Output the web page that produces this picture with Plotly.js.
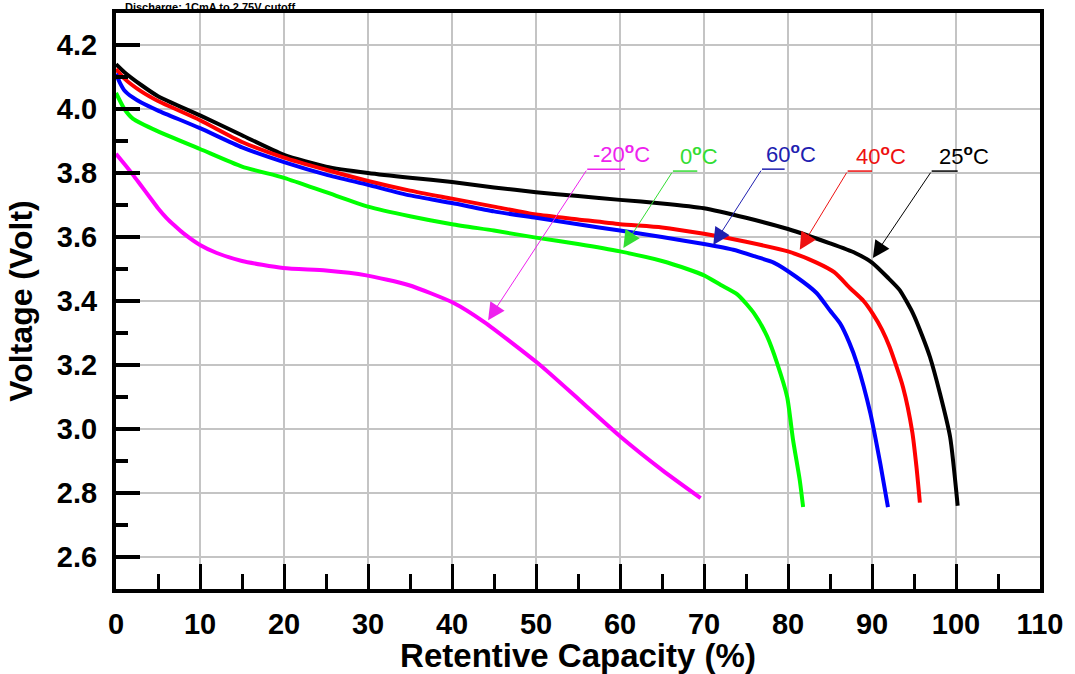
<!DOCTYPE html>
<html>
<head>
<meta charset="utf-8">
<script src="https://cdn.plot.ly/plotly-3.0.1.min.js"></script>
<style>html,body{margin:0;padding:0;background:#fff;}#chart{width:1075px;height:674px;}</style>
</head>
<body>
<div id="chart"></div>
<script>
// ---- data (Retentive Capacity %, Voltage V) ----
const seriesNames = ['25\u00b0C', '40\u00b0C', '60\u00b0C', '0\u00b0C', '-20\u00b0C'];
const seriesColors = ['#000000', '#ff0000', '#0000ff', '#00ff00', '#ff00ff'];

const x25 = [0, 1, 3, 5, 10, 15, 20, 25, 30, 35, 40, 45, 50, 55, 60, 65, 70, 75, 80, 85, 88, 90, 92, 93.3, 94.9, 96, 96.9, 98.1, 99.3, 100.2];
const v25 = [4.14, 4.115, 4.075, 4.04, 3.98, 3.918, 3.857, 3.82, 3.80, 3.785, 3.772, 3.755, 3.74, 3.728, 3.716, 3.705, 3.69, 3.66, 3.625, 3.58, 3.55, 3.52, 3.47, 3.434, 3.36, 3.29, 3.225, 3.11, 2.975, 2.76];

const x40 = [0, 1, 3, 5, 10, 15, 20, 25, 30, 35, 40, 45, 50, 55, 60, 65, 70, 75, 80, 83.4, 85.5, 87.4, 89, 90.1, 91.2, 92.1, 93.7, 94.8, 95.3, 95.7];
const v40 = [4.125, 4.095, 4.055, 4.025, 3.965, 3.897, 3.848, 3.81, 3.775, 3.745, 3.72, 3.695, 3.67, 3.655, 3.64, 3.63, 3.61, 3.585, 3.555, 3.52, 3.49, 3.44, 3.40, 3.36, 3.31, 3.256, 3.13, 2.99, 2.88, 2.77];

const x60 = [0, 0.5, 1, 2, 3, 5, 10, 15, 20, 25, 30, 35, 40, 45, 50, 55, 60, 65, 70, 73.5, 76, 78.3, 81, 83.4, 85, 86.2, 87.3, 88.2, 89.8, 91, 91.9];
const v60 = [4.11, 4.08, 4.058, 4.036, 4.02, 3.995, 3.94, 3.88, 3.834, 3.795, 3.763, 3.73, 3.706, 3.68, 3.66, 3.64, 3.62, 3.60, 3.578, 3.56, 3.54, 3.52, 3.475, 3.425, 3.37, 3.33, 3.27, 3.206, 3.05, 2.89, 2.756];

const x0 = [0, 1, 2, 5, 10, 15, 20, 25, 30, 35, 40, 45, 50, 55, 60, 65, 68, 70, 72, 74, 76, 77.5, 78.7, 79.9, 80.6, 81.4, 81.8];
const v0 = [4.05, 4.0, 3.97, 3.93, 3.875, 3.82, 3.785, 3.74, 3.695, 3.665, 3.64, 3.62, 3.598, 3.578, 3.555, 3.525, 3.50, 3.48, 3.45, 3.42, 3.36, 3.29, 3.206, 3.10, 2.966, 2.84, 2.756];

const xm20 = [0, 1, 2, 3, 4, 5, 6, 7, 8, 10, 12, 15, 19.9, 25, 29.8, 34.8, 40.2, 43.8, 50.2, 55.2, 60.1, 65.1, 69.6];
const vm20 = [3.86, 3.828, 3.795, 3.76, 3.725, 3.69, 3.66, 3.635, 3.612, 3.575, 3.55, 3.525, 3.503, 3.495, 3.48, 3.45, 3.394, 3.335, 3.206, 3.09, 2.975, 2.87, 2.784];

// ---- label annotations (order: -20, 0, 60, 40, 25) ----
const labelText = ['-20<sup><b>o</b></sup>C', '0<sup><b>o</b></sup>C', '60<sup><b>o</b></sup>C', '40<sup><b>o</b></sup>C', '25<sup><b>o</b></sup>C'];
const labelColors = ['#ee22ee', '#33dd33', '#2020b0', '#ee1111', '#000000'];
const labelX = [56.5, 66.9, 77.1, 87.8, 97.7];
const labelY = [3.812, 3.806, 3.812, 3.806, 3.806];
const lineX0 = [56.1, 66.3, 76.9, 87.1, 97.1];
const lineX1 = [60.6, 69.2, 79.6, 90.0, 100.2];
const tipX = [44.3, 60.4, 71.1, 81.4, 90.1];
const tipY = [3.34, 3.566, 3.575, 3.56, 3.534];

const xTickVals = [0, 10, 20, 30, 40, 50, 60, 70, 80, 90, 100, 110];
const yTickVals = [2.6, 2.8, 3.0, 3.2, 3.4, 3.6, 3.8, 4.0, 4.2];

const xs = [x25, x40, x60, x0, xm20];
const vs = [v25, v40, v60, v0, vm20];

const traces = xs.map((xx, i) => ({
  x: xx, y: vs[i], type: 'scatter', mode: 'lines', name: seriesNames[i],
  line: {color: seriesColors[i], width: 4, shape: 'spline', smoothing: 0.6},
  hoverinfo: 'x+y+name'
}));

const annotations = [];
const shapes = [];
for (let i = 0; i < labelText.length; i++) {
  annotations.push({
    x: labelX[i], y: labelY[i], xref: 'x', yref: 'y', text: labelText[i],
    showarrow: false, xanchor: 'left', yanchor: 'bottom',
    font: {family: 'Liberation Sans Narrow, Arial Narrow, Liberation Sans, Arial', size: 22, color: labelColors[i]}
  });
  annotations.push({
    x: tipX[i], y: tipY[i], xref: 'x', yref: 'y', text: '',
    showarrow: true, ax: lineX0[i], ay: labelY[i], axref: 'x', ayref: 'y',
    arrowhead: 2, arrowsize: 3.4, arrowwidth: 1, arrowcolor: labelColors[i], standoff: 0
  });
  shapes.push({
    type: 'line', xref: 'x', yref: 'y', x0: lineX0[i], x1: lineX1[i], y0: labelY[i], y1: labelY[i],
    line: {color: labelColors[i], width: 1.5}
  });
}
annotations.push({
  xref: 'paper', yref: 'paper', x: 0.008, y: 1, xanchor: 'left', yanchor: 'top', yshift: 14,
  text: '<b>Discharge: 1CmA to 2.75V cutoff</b>', showarrow: false,
  font: {family: 'Arial, Liberation Sans', size: 11, color: '#000'}
});

const layout = {
  width: 1075, height: 674,
  margin: {l: 116, r: 35, t: 13, b: 85},
  paper_bgcolor: '#fff', plot_bgcolor: '#fff',
  showlegend: false,
  font: {family: 'Arial, Liberation Sans', color: '#000'},
  xaxis: {
    range: [0, 110], tickvals: xTickVals, ticktext: xTickVals.map(String),
    ticks: 'inside', ticklen: 25, tickwidth: 3, tickcolor: '#000',
    minor: {dtick: 5, tick0: 0, ticks: 'inside', ticklen: 15, tickwidth: 3, tickcolor: '#000', showgrid: false},
    showline: true, linewidth: 4, linecolor: '#000', mirror: true,
    showgrid: true, gridcolor: '#c4c4c4', gridwidth: 1.5, zeroline: false,
    tickfont: {size: 29, family: 'Arial, Liberation Sans', weight: 'bold'},
    ticklabelstandoff: 6,
    title: {text: '<b>Retentive Capacity (%)</b>', font: {size: 33}, standoff: 6}
  },
  yaxis: {
    range: [2.5, 4.3], tickvals: yTickVals, ticktext: yTickVals.map(v => v.toFixed(1)),
    ticks: 'inside', ticklen: 24, tickwidth: 4, tickcolor: '#000',
    minor: {dtick: 0.1, tick0: 2.5, ticks: 'inside', ticklen: 12, tickwidth: 4, tickcolor: '#000', showgrid: false},
    showline: true, linewidth: 4, linecolor: '#000', mirror: true,
    showgrid: true, gridcolor: '#c4c4c4', gridwidth: 1.5, zeroline: false,
    tickfont: {size: 29, family: 'Arial, Liberation Sans', weight: 'bold'},
    ticklabelstandoff: 9,
    title: {text: '<b>Voltage (Volt)</b>', font: {size: 32}, standoff: 16}
  },
  annotations: annotations,
  shapes: shapes
};

Plotly.newPlot('chart', traces, layout, {displayModeBar: false, staticPlot: true});
</script>
</body>
</html>
